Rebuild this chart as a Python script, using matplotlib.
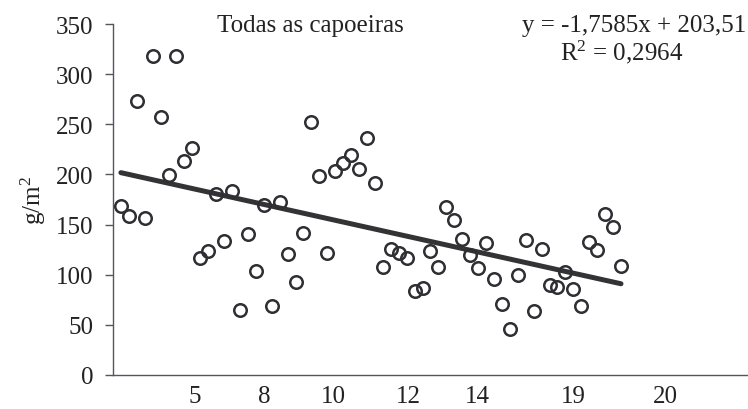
import matplotlib
matplotlib.use("Agg")
import matplotlib.pyplot as plt
import numpy as np

plt.rcParams['font.family'] = ['Liberation Serif', 'DejaVu Serif']
plt.rcParams['mathtext.fontset'] = 'custom'
plt.rcParams['mathtext.rm'] = 'Liberation Serif'
plt.rcParams['mathtext.it'] = 'Liberation Serif:italic'
plt.rcParams['mathtext.default'] = 'regular'

# Biomass values (g/m2), in observation order 1..64
values = [169, 159, 273, 157, 318, 257, 199, 318, 213, 226,
          117, 124, 180, 134, 183, 65, 141, 104, 170, 69,
          172, 121, 93, 142, 252, 198, 122, 203, 211, 219,
          205, 236, 191, 108, 126, 122, 117, 84, 87, 124,
          108, 168, 155, 136, 120, 107, 132, 96, 71, 46,
          100, 135, 64, 126, 90, 88, 103, 86, 69, 133,
          125, 161, 148, 109]
obs = np.arange(1, len(values) + 1)

slope = -1.7585
intercept = 203.51

xtick_pos = [10.3, 19.1, 27.8, 37.2, 45.9, 58.0, 69.6]
xtick_labels = ["5", "8", "10", "12", "14", "19", "20"]
yticks = [0, 50, 100, 150, 200, 250, 300, 350]

fs = 18
txt = '#222222'

fig = plt.figure(figsize=(7.48, 4.10), dpi=100)
ax = fig.add_axes([0.151, 0.083, 0.849, 0.856])

dark = '#2e2e33'
ax.plot(obs, values, linestyle='none', marker='o', markersize=9,
        markerfacecolor='none', markeredgecolor=dark, markeredgewidth=1.8, zorder=3)

xl = np.array([obs[0], obs[-1]])
ax.plot(xl, slope * xl + intercept, color='#333336', linewidth=3.6,
        solid_capstyle='round', zorder=2)

ax.set_xlim(0, 80)
ax.set_ylim(0, 350)
ax.set_yticks(yticks)
ax.set_yticklabels([str(t) for t in yticks])
ax.set_xticks(xtick_pos)
ax.set_xticklabels(xtick_labels)

for s in ['top', 'right']:
    ax.spines[s].set_visible(False)
for s in ['left', 'bottom']:
    ax.spines[s].set_color('#555560')
    ax.spines[s].set_linewidth(1.0)

ax.tick_params(axis='y', direction='out', length=6, width=1.0, color='#555560',
               labelsize=fs, pad=8, labelcolor=txt)
ax.tick_params(axis='x', length=0, labelsize=fs, pad=7, labelcolor=txt)

ax.set_ylabel('g/m$^2$', fontsize=fs, color=txt, labelpad=6)

fig.text(310 / 748, 1 - 26 / 410, 'Todas as capoeiras', fontsize=fs,
         ha='center', va='center', color=txt)
fig.text(746 / 748, 1 - 26 / 410, 'y = -1,7585x + 203,51', fontsize=fs,
         ha='right', va='center', color=txt)
fig.text(622 / 748, 1 - 52 / 410, 'R$^2$ = 0,2964', fontsize=fs,
         ha='center', va='center', color=txt)

fig.savefig('out.png', dpi=100)
